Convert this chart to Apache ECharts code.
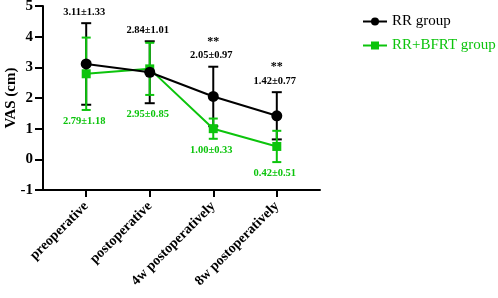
<!DOCTYPE html>
<html>
<head>
<meta charset="utf-8">
<script src="https://cdn.jsdelivr.net/npm/echarts@6/dist/echarts.min.js"></script>
<style>
  html, body { margin: 0; padding: 0; background: #fff; }
  #main { width: 498px; height: 298px; }
</style>
</head>
<body>
<div id="main"></div>
<script>
const categories = ['preoperative', 'postoperative', '4w postoperatively', '8w postoperatively'];
const rrMean = [3.11, 2.84, 2.05, 1.42];
const rrSd = [1.33, 1.01, 0.97, 0.77];
const bfrtMean = [2.79, 2.95, 1.00, 0.42];
const bfrtSd = [1.18, 0.85, 0.33, 0.51];
const stars = ['', '', '**', '**'];
const yTicks = [-1, 0, 1, 2, 3, 4, 5];

const BLACK = '#000000';
const GREEN = '#0cc40c';
const FONT = '"Liberation Serif", "Times New Roman", serif';

const myChart = echarts.init(document.getElementById('main'));

function errorBars(means, sds, color, capW, labelAbove) {
  return {
    type: 'custom',
    z: 1,
    silent: true,
    data: means.map((m, i) => [i, m, sds[i]]),
    renderItem: function (params, api) {
      const i = api.value(0);
      const m = api.value(1);
      const sd = api.value(2);
      const top = api.coord([i, m + sd]);
      const bot = api.coord([i, m - sd]);
      const x = top[0];
      const style = { stroke: color, lineWidth: 2 };
      const children = [
        { type: 'line', shape: { x1: x, y1: top[1], x2: x, y2: bot[1] }, style },
        { type: 'line', shape: { x1: x - capW / 2, y1: top[1], x2: x + capW / 2, y2: top[1] }, style },
        { type: 'line', shape: { x1: x - capW / 2, y1: bot[1], x2: x + capW / 2, y2: bot[1] }, style }
      ];
      const text = m.toFixed(2) + '±' + sd.toFixed(2);
      if (labelAbove) {
        // above the highest cap at this category
        const hi = Math.max(rrMean[i] + rrSd[i], bfrtMean[i] + bfrtSd[i]);
        const y = api.coord([i, hi])[1] - 11;
        children.push({ type: 'text', style: { x: x - 2, y: y, text: text, fill: color, font: 'bold 10.5px ' + FONT, align: 'center', verticalAlign: 'middle' } });
        if (stars[i]) {
          children.push({ type: 'text', style: { x: x, y: y - 14, text: stars[i], fill: color, font: 'bold 12px ' + FONT, align: 'center', verticalAlign: 'middle' } });
        }
      } else {
        const lo = Math.min(rrMean[i] - rrSd[i], bfrtMean[i] - bfrtSd[i]);
        const y = api.coord([i, lo])[1] + 11;
        children.push({ type: 'text', style: { x: x - 2, y: y, text: text, fill: color, font: 'bold 10.5px ' + FONT, align: 'center', verticalAlign: 'middle' } });
      }
      return { type: 'group', children: children };
    }
  };
}

const option = {
  animation: false,
  backgroundColor: '#fff',
  grid: { left: 43, right: 178, top: 6, bottom: 108, outerBoundsMode: 'none', containLabel: false },
  legend: {
    orient: 'vertical',
    left: 357,
    top: 9,
    itemWidth: 24,
    itemHeight: 10,
    itemGap: 9,
    textStyle: { fontFamily: FONT, fontSize: 15 },
    data: [
      { name: 'RR group', textStyle: { color: BLACK } },
      { name: 'RR+BFRT group', textStyle: { color: GREEN } }
    ]
  },
  xAxis: {
    type: 'value',
    min: -0.68,
    max: 3.68,
    splitLine: { show: false },
    axisLine: { onZero: false, lineStyle: { color: BLACK, width: 2 } },
    axisTick: { customValues: [0, 1, 2, 3], length: 7, lineStyle: { color: BLACK, width: 2 } },
    axisLabel: {
      customValues: [0, 1, 2, 3],
      formatter: v => categories[Math.round(v)],
      rotate: 45,
      margin: 14,
      color: BLACK,
      fontFamily: FONT,
      fontWeight: 'bold',
      fontSize: 14
    }
  },
  yAxis: {
    type: 'value',
    min: yTicks[0],
    max: yTicks[yTicks.length - 1],
    interval: 1,
    name: 'VAS (cm)',
    nameLocation: 'middle',
    nameGap: 24,
    nameMoveOverlap: false,
    nameTextStyle: { color: BLACK, fontFamily: FONT, fontWeight: 'bold', fontSize: 15 },
    splitLine: { show: false },
    axisLine: { show: true, onZero: false, lineStyle: { color: BLACK, width: 2 } },
    axisTick: { show: true, length: 8, lineStyle: { color: BLACK, width: 2 } },
    axisLabel: { color: BLACK, fontFamily: FONT, fontWeight: 'bold', fontSize: 15, margin: 10 }
  },
  series: [
    errorBars(rrMean, rrSd, BLACK, 10, true),
    errorBars(bfrtMean, bfrtSd, GREEN, 9, false),
    {
      name: 'RR group',
      type: 'line',
      z: 3,
      data: rrMean.map((v, i) => [i, v]),
      symbol: 'circle',
      symbolSize: 11,
      itemStyle: { color: BLACK },
      lineStyle: { color: BLACK, width: 2 }
    },
    {
      name: 'RR+BFRT group',
      type: 'line',
      z: 2,
      data: bfrtMean.map((v, i) => [i, v]),
      symbol: 'rect',
      symbolSize: 9,
      itemStyle: { color: GREEN },
      lineStyle: { color: GREEN, width: 2 }
    }
  ]
};

myChart.setOption(option);
</script>
</body>
</html>
